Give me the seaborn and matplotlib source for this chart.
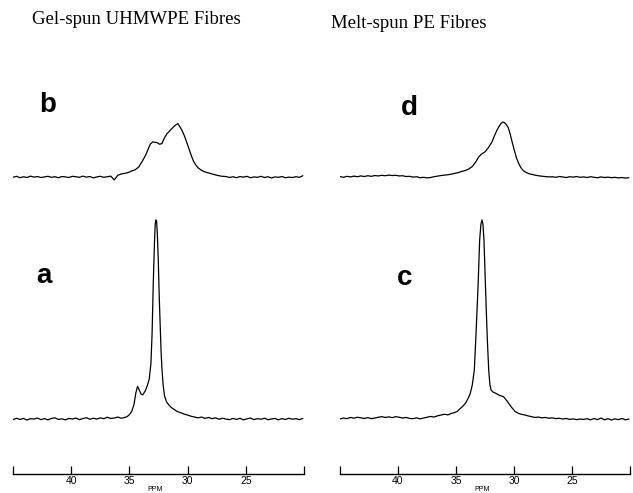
import numpy as np
import pandas as pd
import matplotlib
matplotlib.use("Agg")
import matplotlib.pyplot as plt
import seaborn as sns

# Chemical shift grids (ppm) for the flat baseline stretches
left_grid = [45.0, 44.7, 44.4, 44.1, 43.8, 43.5, 43.2, 42.9, 42.6, 42.3, 42.0,
             41.7, 41.4, 41.1, 40.8, 40.5, 40.2, 39.9, 39.6, 39.3, 39.0, 38.7,
             38.4, 38.1, 37.8, 37.5, 37.2, 36.9, 36.6, 36.3, 36.0, 35.7, 35.4]
right_grid = [29.1, 28.8, 28.5, 28.2, 27.9, 27.6, 27.3, 27.0, 26.7, 26.4, 26.1,
              25.8, 25.5, 25.2, 24.9, 24.6, 24.3, 24.0, 23.7, 23.4, 23.1, 22.8,
              22.5, 22.2, 21.9, 21.6, 21.3, 21.0, 20.7, 20.4, 20.1]

# a: gel-spun UHMWPE, low field
a_left = [-0.3, 0.4, -0.2, 0.3, -0.5, 0.2, 0.0, 0.5, -0.3, 0.2, -0.4, 0.3, 0.6,
          -0.2, 0.1, -0.4, 0.3, 0.0, 0.5, -0.3, 0.2, 0.7, -0.1, 0.4, 0.0, 0.6,
          0.2, 0.9, 0.3, 0.5, 1.0, 0.4, 0.8]
a_peak_ppm = [35.2, 35.0, 34.8, 34.6, 34.45, 34.3, 34.15, 34.0, 33.85, 33.65,
              33.45, 33.3, 33.15, 33.05, 32.95, 32.85, 32.78, 32.72, 32.66, 32.6,
              32.52, 32.44, 32.36, 32.28, 32.2, 32.1, 31.98, 31.8, 31.6, 31.4,
              31.15, 30.9, 30.6, 30.3, 30.0, 29.7, 29.4]
a_peak = [1.2, 2.2, 3.8, 7.5, 13.0, 16.4, 14.5, 12.5, 12.2, 14.0, 17.0, 20.0,
          28.0, 43.0, 68.0, 88.0, 98.0, 100.0, 99.0, 93.0, 80.0, 62.0, 48.0,
          34.0, 25.0, 17.0, 11.5, 8.5, 7.0, 5.8, 4.8, 3.8, 3.2, 2.5, 2.0, 1.4, 1.0]
a_right = [0.6, 1.0, 0.3, 0.8, 0.2, 0.6, -0.1, 0.4, 0.0, -0.3, 0.3, -0.2, 0.4,
           -0.4, 0.1, 0.5, -0.3, 0.2, -0.1, 0.4, -0.3, 0.0, 0.3, -0.4, 0.2, -0.2,
           0.4, -0.1, 0.2, -0.3, 0.3]

# b: gel-spun UHMWPE, high field
b_left = [-0.2, 0.3, -0.4, 0.1, -0.3, 0.4, -0.1, 0.2, -0.3, 0.0, 0.3, -0.2,
          0.1, -0.4, 0.2, 0.0, -0.3, 0.3, 0.1, -0.2, 0.4, -0.1, 0.2, -0.5, 0.0,
          0.3, -0.2, 0.1, 0.4, -1.5, 0.8, 1.5, 1.8]
b_peak_ppm = [35.1, 34.8, 34.5, 34.2, 33.9, 33.6, 33.4, 33.2, 33.0, 32.8, 32.6,
              32.4, 32.2, 32.0, 31.8, 31.6, 31.4, 31.2, 31.0, 30.84, 30.7, 30.5,
              30.3, 30.1, 29.9, 29.7, 29.5, 29.3, 29.1, 28.8, 28.5, 28.2, 27.9,
              27.6, 27.3, 27.0]
b_peak = [2.2, 3.0, 3.6, 5.0, 7.8, 11.0, 13.8, 16.5, 17.6, 17.4, 17.2, 16.4,
          16.8, 19.5, 21.5, 22.8, 24.0, 25.2, 26.2, 26.8, 25.5, 23.6, 21.0, 17.8,
          14.5, 11.0, 8.0, 6.0, 4.6, 3.3, 2.5, 2.0, 1.5, 1.0, 0.6, 0.3]
b_right = [0.2, -0.3, 0.1, -0.4, 0.2, -0.1, 0.3, -0.4, 0.0, -0.2, 0.3, -0.3,
           0.1, -0.5, 0.0, -0.2, 0.2, -0.4, -0.1, -0.3, 0.1, -0.2, 0.6]

# c: melt-spun PE, low field
c_left = [0.0, 0.5, 0.2, 0.8, 0.4, 0.9, 0.6, 0.3, 0.7, 0.2, 0.5, 0.9, 1.2, 0.8,
          1.1, 0.7, 1.2, 0.9, 0.5, 0.8, 0.3, 0.2, 0.6, 0.1, 0.5, 0.9, 1.3, 1.0,
          1.6, 2.0, 2.4, 2.1, 2.8]
c_peak_ppm = [35.15, 34.9, 34.65, 34.4, 34.15, 33.95, 33.77, 33.6, 33.42, 33.28,
              33.1, 32.96, 32.85, 32.76, 32.68, 32.59, 32.5, 32.41, 32.3, 32.18,
              32.08, 31.98, 31.8, 31.6, 31.47, 31.3, 31.1, 30.9, 30.7, 30.46,
              30.2, 29.89, 29.6, 29.3, 29.03]
c_peak = [3.2, 3.8, 5.2, 6.5, 8.2, 10.5, 12.9, 17.0, 24.6, 42.0, 66.5, 90.0,
          98.0, 100.0, 98.0, 90.0, 74.0, 58.0, 40.0, 24.6, 17.5, 14.6, 13.5,
          13.0, 12.6, 12.0, 11.6, 11.2, 9.8, 7.9, 5.8, 3.7, 2.8, 2.3, 2.0]
c_right = [1.6, 1.2, 0.8, 1.0, 0.6, 0.8, 0.4, 0.6, 0.2, 0.4, 0.0, 0.3, -0.2,
           0.1, -0.3, 0.0, -0.2, 0.2, -0.4, 0.3, -0.3, 0.5, -0.4, 0.2, -0.5, 0.1,
           -0.3, 0.3, -0.4, 0.0]

# d: melt-spun PE, high field
d_left = [0.2, -0.2, 0.3, 0.0, 0.4, 0.1, 0.5, 0.2, 0.6, 0.3, 0.7, 0.5, 0.8, 0.6,
          0.9, 0.7, 0.8, 0.5, 0.6, 0.2, 0.3, -0.1, 0.1, -0.4, -0.2, -0.5, -0.3,
          0.1, 0.4, 0.7, 0.9, 1.1, 1.4]
d_peak_ppm = [35.1, 34.8, 34.5, 34.2, 33.9, 33.6, 33.3, 33.05, 32.8, 32.5, 32.2,
              31.9, 31.7, 31.47, 31.25, 31.1, 30.95, 30.8, 30.65, 30.5, 30.35,
              30.2, 30.0, 29.8, 29.6, 29.4, 29.2, 29.0, 28.7, 28.4, 28.1, 27.8,
              27.5, 27.2, 26.9]
d_peak = [1.8, 2.2, 2.8, 3.2, 4.0, 5.2, 7.5, 10.0, 11.5, 12.6, 14.8, 17.6, 20.5,
          23.5, 25.8, 27.0, 27.6, 27.2, 26.2, 24.8, 22.0, 18.5, 14.0, 9.8, 6.8,
          4.6, 3.2, 2.4, 1.6, 1.2, 0.8, 0.5, 0.3, 0.1, 0.0]
d_right = [0.1, -0.2, 0.2, 0.0, -0.3, 0.1, -0.1, 0.2, -0.2, 0.0, -0.3, 0.1,
           -0.2, -0.4, 0.0, -0.3, -0.1, -0.4, -0.2, -0.5, -0.3, -0.6, -0.4]

titles = ["Gel-spun UHMWPE Fibres", "Melt-spun PE Fibres"]
tick_values = [45, 40, 35, 30, 25, 20]
tick_labels = ["", "40", "35", "30", "25", ""]


def spectrum(left, peak_ppm, peak, right, right_start):
    ppm = left_grid + peak_ppm + right_grid[right_start:]
    return pd.DataFrame({"ppm": ppm, "intensity": left + peak + right})


spectra = {
    "a": spectrum(a_left, a_peak_ppm, a_peak, a_right, 0),
    "b": spectrum(b_left, b_peak_ppm, b_peak, b_right, 8),
    "c": spectrum(c_left, c_peak_ppm, c_peak, c_right, 1),
    "d": spectrum(d_left, d_peak_ppm, d_peak, d_right, 8),
}

sns.set_style("white")
plt.rcParams["font.family"] = ["Liberation Sans", "DejaVu Sans"]
plt.rcParams["text.color"] = "black"
plt.rcParams["xtick.color"] = "black"
plt.rcParams["xtick.labelcolor"] = "black"

W, H = 633, 493
fig = plt.figure(figsize=(W / 100, H / 100), dpi=100)

# column geometry in pixels: (left, right)
columns = [(13, 304, "b", "a"), (340, 630, "d", "c")]
label_pos = {"b": (42.0, 36.0), "a": (42.3, 72.0), "d": (39.0, 34.7), "c": (39.4, 71.0)}

for i, (x0, x1, top_key, bottom_key) in enumerate(columns):
    left = x0 / W
    width = (x1 - x0) / W

    # lower spectrum with the ppm axis
    ax_low = fig.add_axes([left, (H - 474) / H, width, 274 / H])
    sns.lineplot(data=spectra[bottom_key], x="ppm", y="intensity", ax=ax_low,
                 color="black", linewidth=0.9, sort=False, estimator=None)
    ax_low.set_xlim(45, 20)
    ax_low.set_ylim(-27.6, 110.0)
    for side in ["top", "left", "right"]:
        ax_low.spines[side].set_visible(False)
    ax_low.spines["bottom"].set_linewidth(1.0)
    ax_low.spines["bottom"].set_color("black")
    ax_low.set_yticks([])
    ax_low.set_xticks(tick_values)
    ax_low.set_xticklabels(tick_labels)
    ax_low.tick_params(axis="x", direction="in", length=6, width=0.9,
                       labelsize=7.5, pad=1.5, bottom=True, color="black")
    ax_low.set_xlabel("")
    ax_low.set_ylabel("")
    ax_low.text(*label_pos[bottom_key], bottom_key, fontsize=20,
                fontweight="bold", ha="center", va="center", color="black")

    # upper spectrum, no axis
    ax_up = fig.add_axes([left, (H - 200) / H, width, 110 / H])
    sns.lineplot(data=spectra[top_key], x="ppm", y="intensity", ax=ax_up,
                 color="black", linewidth=0.9, sort=False, estimator=None)
    ax_up.set_xlim(45, 20)
    ax_up.set_ylim(-11.6, 43.7)
    ax_up.axis("off")
    ax_up.text(*label_pos[top_key], top_key, fontsize=20,
               fontweight="bold", ha="center", va="center", color="black")

    # "PPM" just under the tick labels
    fig.text((x0 + x1) / 2 / W - 0.005, (H - 486) / H, "PPM", fontsize=5,
             ha="center", va="top")

fig.text(136 / W, 1 - 20 / H, titles[0], family="Liberation Serif",
         fontsize=13.5, ha="center", va="center")
fig.text(409 / W, 1 - 23 / H, titles[1], family="Liberation Serif",
         fontsize=13.5, ha="center", va="center")

fig.savefig("out.png", dpi=100, facecolor="white")
